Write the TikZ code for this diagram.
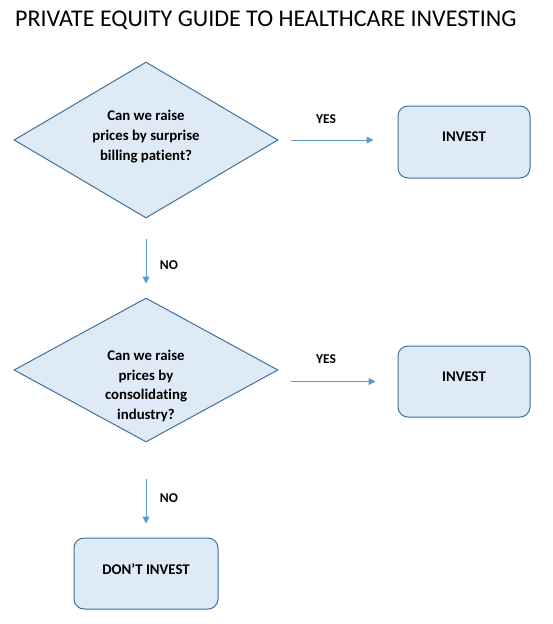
\documentclass[tikz,border=0pt]{standalone}
\usepackage{fontspec}
\setmainfont{Carlito}[Ligatures={NoCommon}]
\usetikzlibrary{shapes.geometric,arrows.meta}
\definecolor{boxfill}{HTML}{DEEBF7}
\definecolor{boxline}{HTML}{41719C}
\definecolor{arrowc}{HTML}{5B9BD5}
\begin{document}
\begin{tikzpicture}[x=1pt,y=-1pt,
  txt/.style={font=\fontsize{14.8}{20}\selectfont\bfseries, align=center, inner sep=0pt},
  decision/.style={diamond, draw=boxline, fill=boxfill, line width=1pt, inner sep=0pt},
  outcome/.style={rectangle, rounded corners=10pt, draw=boxline, fill=boxfill, line width=1pt, minimum width=132pt, minimum height=72pt},
  flow/.style={draw=arrowc, line width=1pt, -{Triangle[length=7pt,width=7pt]}},
  lbl/.style={font=\fontsize{13.5}{16}\selectfont\bfseries}
]
\useasboundingbox (0,0) rectangle (552,624);
\node[anchor=base west, inner sep=0pt, font=\fontsize{24}{26}\selectfont] (title) at (15,26.5) {PRIVATE EQUITY GUIDE TO HEALTHCARE INVESTING};

\node[decision, minimum width=264pt, minimum height=156pt] (d1) at (146,140) {};
\node[decision, minimum width=264pt, minimum height=144pt] (d2) at (146,370) {};
\node[outcome, minimum height=72pt] (inv1) at (464,142) {};
\node[outcome, minimum height=71pt] (inv2) at (464,381.5) {};
\node[outcome, minimum width=144pt, minimum height=71pt] (dont) at (146,573.5) {};

\node[txt] (d1t) at (146,137) {Can we raise\\prices by surprise\\billing patient?};
\node[txt, font=\fontsize{14.8}{19.5}\selectfont\bfseries] (d2t) at (146,386) {Can we raise\\prices by\\consolidating\\industry?};
\node[txt] (inv1t) at (464,137) {INVEST};
\node[txt] (inv2t) at (464,377) {INVEST};
\node[txt] (dontt) at (146,569) {DON’T INVEST};

\draw[flow, shorten <=12pt, shorten >=24pt] (d1.east) -- (d1.east -| inv1.west);
\coordinate (d2e) at (d2.east |- inv2.west);
\draw[flow, shorten <=12pt, shorten >=22pt] (d2e) -- (inv2.west);
\draw[flow, shorten <=20pt, shorten >=14pt] (d1.south) -- (d2.north);
\draw[flow, shorten <=36pt, shorten >=14pt] (d2.south) -- (dont.north);

\node[lbl] (yes1) at (326,119) {YES};
\node[lbl] (yes2) at (326,359) {YES};
\node[lbl] (no1) at (169,265) {NO};
\node[lbl] (no2) at (169,498) {NO};
\end{tikzpicture}
\end{document}
